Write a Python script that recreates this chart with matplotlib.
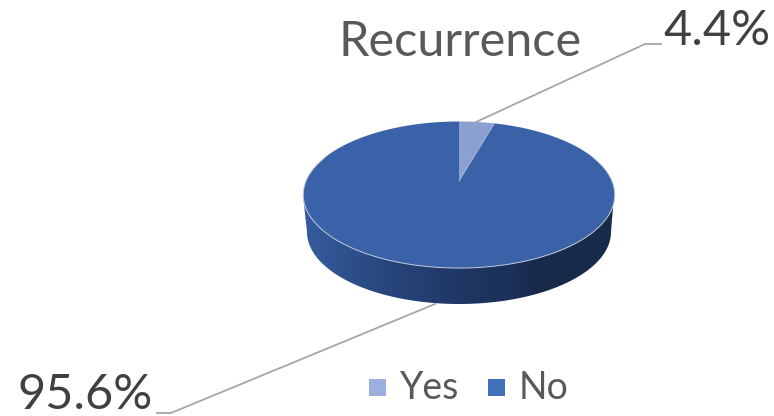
import numpy as np
import matplotlib
matplotlib.use("Agg")
import matplotlib.pyplot as plt
from matplotlib.colors import LinearSegmentedColormap
from matplotlib.patches import Polygon, Rectangle

categories = ["Yes", "No"]
values = [4.4, 95.6]
title = "Recurrence"

slice_colors = ["#8b9fd1", "#3a62a8"]
legend_colors = ["#9dafdf", "#4270b8"]

plt.rcParams['font.family'] = ['Lato', 'DejaVu Sans']


def project(theta):
    # tilted circle -> screen pixels, theta is clockwise from 12 o'clock
    # the far side is squeezed so the pie centre sits above the ellipse centre
    w = 1 + 0.188 * np.cos(theta)
    x = 459 + 153 * np.sin(theta) / w
    y = 181 - 70.7 * np.cos(theta) / w
    return x, y


def draw_side(ax):
    # side wall of the pie with left to right shading
    t = np.linspace(np.pi, 0, 200)
    xs = np.concatenate([[303], 459 + 152 * np.cos(t), [614]])
    ys = np.concatenate([[195], 232 + 72 * np.sin(t), [195]])
    wall = Polygon(np.column_stack([xs, ys]), closed=True, fc="none", ec="none")
    ax.add_patch(wall)

    cmap = LinearSegmentedColormap.from_list(
        "side",
        [(0, "#365c9f"), (0.2, "#2b4b85"), (0.45, "#213a6a"),
         (0.68, "#1b2f58"), (0.75, "#172a4a"), (1, "#172a4a")],
    )
    grad = np.linspace(0, 1, 312).reshape(1, -1)
    img = ax.imshow(grad, extent=(303, 615, 305, 190), cmap=cmap, aspect="auto", zorder=1)
    img.set_clip_path(wall)


def draw_top(ax):
    # top face, slices come straight from the values
    start = 0
    for value, color in zip(values, slice_colors):
        end = start + value / sum(values) * 2 * np.pi
        t = np.linspace(start, end, 400)
        x, y = project(t)
        ax.fill(np.append(x, 459), np.append(y, 181), fc=color, ec="none", zorder=2)
        start = end

    # light rim along the front edge and slice edge
    t = np.linspace(np.pi / 2 - 0.35, 3 * np.pi / 2 + 0.35, 300)
    x, y = project(t)
    ax.plot(x, y, color="#c4cddc", lw=0.7, zorder=3)
    x, y = project(values[0] / sum(values) * 2 * np.pi)
    ax.plot([459, x], [181, y], color="#a9b8dc", lw=0.6, zorder=3)


def draw_labels(ax):
    # leader lines
    ax.plot([476, 645, 661], [122, 44, 44], color="#a6a6a6", lw=1.3, zorder=4)
    ax.plot([435, 171, 157], [304, 413, 413], color="#a6a6a6", lw=1.3, zorder=0)

    ax.text(460, 42, title, fontsize=35, color="#595959", ha="center", va="center")
    ax.text(717, 31, f"{values[0]}%", fontsize=35, color="#404040", ha="center", va="center")
    ax.text(85, 395, f"{values[1]}%", fontsize=35, color="#404040", ha="center", va="center")

    # legend
    for cat, color, sx, tx in zip(categories, legend_colors, [369, 488], [400, 519]):
        ax.add_patch(Rectangle((sx, 379), 17, 17, fc=color, ec="none"))
        ax.text(tx, 388, cat, fontsize=27, color="#595959", ha="left", va="center")


def main():
    fig = plt.figure(figsize=(7.74, 4.16), dpi=100)
    ax = fig.add_axes([0, 0, 1, 1])
    draw_side(ax)
    draw_top(ax)
    draw_labels(ax)
    ax.set_xlim(0, 774)
    ax.set_ylim(416, 0)
    ax.axis("off")
    fig.savefig("out.png", dpi=100)


if __name__ == "__main__":
    main()
